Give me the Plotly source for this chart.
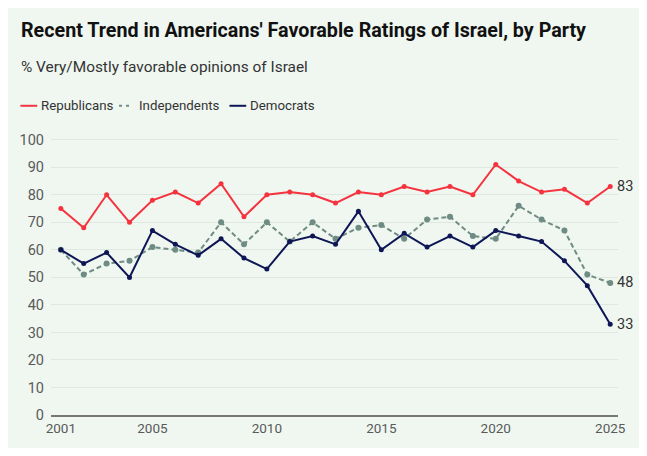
import plotly.graph_objects as go

# survey years and % very/mostly favorable towards Israel
years = list(range(2001, 2026))
republicans = [75, 68, 80, 70, 78, 81, 77, 84, 72, 80, 81, 80, 77,
               81, 80, 83, 81, 83, 80, 91, 85, 81, 82, 77, 83]
independents = [60, 51, 55, 56, 61, 60, 59, 70, 62, 70, 63, 70, 64,
                68, 69, 64, 71, 72, 65, 64, 76, 71, 67, 51, 48]
democrats = [60, 55, 59, 50, 67, 62, 58, 64, 57, 53, 63, 65, 62,
             74, 60, 66, 61, 65, 61, 67, 65, 63, 56, 47, 33]
x_ticks = [2001, 2005, 2010, 2015, 2020, 2025]

RED = "#f5333f"
GREEN = "#6e8c84"
NAVY = "#0e1656"
BG = "#eff7f0"

# page body has an 8px margin, so the figure is sized to fit inside it
OFF = 8
W, H = 647 - 2 * OFF, 456 - 2 * OFF
ML, MR, MT, MB = 43 - OFF, 29 - OFF, 137 - OFF, 34 - OFF
PW = W - ML - MR
PH = H - MT - MB


# screen pixel -> paper coords
def px(x):
    return (x - OFF - ML) / PW


def py(y):
    return (H - MB - (y - OFF)) / PH


fig = go.Figure()

series = [
    ("Republicans", republicans, RED, "solid", 5),
    ("Independents", independents, GREEN, "5px,3px", 6),
    ("Democrats", democrats, NAVY, "solid", 5),
]
for name, vals, col, dash, msize in series:
    fig.add_trace(go.Scatter(
        x=years, y=vals, name=name, mode="lines+markers",
        line=dict(color=col, width=2, dash=dash),
        marker=dict(color=col, size=msize),
        cliponaxis=False, showlegend=False,
    ))
    # end value label
    fig.add_annotation(x=years[-1], y=vals[-1], text=str(vals[-1]),
                       xanchor="left", yanchor="middle", xshift=5,
                       showarrow=False,
                       font=dict(family="Roboto", size=14.5, color="#333333"))

# hand-made legend row
legend_items = [("Republicans", RED, "solid", 12, 29, 31),
                ("Independents", GREEN, "3px,4px", 112, 126, 130),
                ("Democrats", NAVY, "solid", 224, 241, 243)]
for name, col, dash, x0, x1, tx in legend_items:
    fig.add_shape(type="line", xref="paper", yref="paper",
                  x0=px(x0), x1=px(x1), y0=py(105), y1=py(105),
                  line=dict(color=col, width=2, dash=dash))
    fig.add_annotation(xref="paper", yref="paper", x=px(tx), y=py(105),
                       text=name, xanchor="left", yanchor="middle",
                       showarrow=False,
                       font=dict(family="Roboto", size=13.3, color="#333333"))

# title + subtitle
fig.add_annotation(xref="paper", yref="paper", x=px(11), y=py(28),
                   text="<b>Recent Trend in Americans' Favorable Ratings of Israel, by Party</b>",
                   xanchor="left", yanchor="middle", showarrow=False,
                   font=dict(family="Roboto", size=19.7, color="#111111"))
fig.add_annotation(xref="paper", yref="paper", x=px(11), y=py(65),
                   text="% Very/Mostly favorable opinions of Israel",
                   xanchor="left", yanchor="middle", showarrow=False,
                   font=dict(family="Roboto", size=15.4, color="#333333"))

fig.update_layout(
    width=W, height=H,
    margin=dict(l=ML, r=MR, t=MT, b=MB),
    paper_bgcolor=BG, plot_bgcolor=BG,
    font=dict(family="Roboto", size=13, color="#5a5a5a"),
)
fig.update_xaxes(range=[2000.57, 2025.34], tickvals=x_ticks,
                 showgrid=False, zeroline=False,
                 showline=True, linecolor="#777777", linewidth=1.5,
                 ticks="", tickfont=dict(size=13.5, color="#5a5a5a"))
fig.update_yaxes(range=[0, 101], tickvals=list(range(0, 101, 10)),
                 showgrid=True, gridcolor="#dde8df", gridwidth=1,
                 zeroline=False, ticks="", ticklabelstandoff=6,
                 tickfont=dict(size=14.5, color="#5a5a5a"))

fig.write_html("out.html")
